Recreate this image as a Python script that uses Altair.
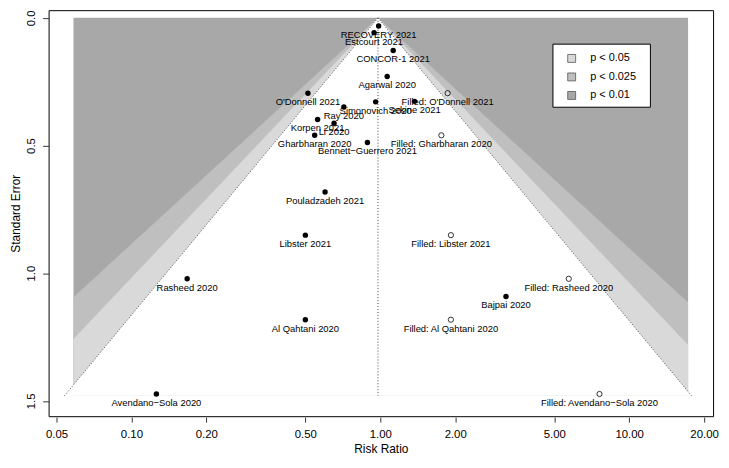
import altair as alt
import numpy as np
import pandas as pd

# ---- data ----
studies = ["RECOVERY 2021", "Estcourt 2021", "CONCOR-1 2021", "Agarwal 2020",
           "O'Donnell 2021", "Simonovich 2020", "Sekine 2021", "Ray 2020",
           "Korpen 2021", "Li 2020", "Gharbharan 2020", "Bennett\u2212Guerrero 2021",
           "Pouladzadeh 2021", "Libster 2021", "Rasheed 2020", "Bajpai 2020",
           "Al Qahtani 2020", "Avendano\u2212Sola 2020"]
rr = [0.985, 0.944, 1.127, 1.066, 0.512, 0.958, 1.374, 0.714, 0.560, 0.652,
      0.545, 0.888, 0.600, 0.500, 0.1675, 3.20, 0.500, 0.126]
se = [0.032, 0.058, 0.128, 0.230, 0.295, 0.329, 0.327, 0.349, 0.398, 0.413,
      0.460, 0.488, 0.682, 0.851, 1.022, 1.091, 1.182, 1.473]

filled_names = ["Filled: O'Donnell 2021", "Filled: Gharbharan 2020", "Filled: Libster 2021",
                "Filled: Rasheed 2020", "Filled: Al Qahtani 2020", "Filled: Avendano\u2212Sola 2020"]
filled_rr = [1.865, 1.760, 1.922, 5.72, 1.922, 7.60]
filled_se = [0.295, 0.460, 0.851, 1.022, 1.182, 1.473]

pooled_rr = 0.979
se_max = 1.48
region_xlim = [0.0585, 17.25]
contour_z = [1.96, 2.241, 2.576]
legend_labels = ["p < 0.05", "p < 0.025", "p < 0.01"]
shade = ["#D9D9D9", "#BFBFBF", "#A8A8A8"]
x_ticks = [0.05, 0.1, 0.2, 0.5, 1, 2, 5, 10, 20]
y_ticks = [0.0, 0.5, 1.0, 1.5]

# ---- contour regions ----
c = np.log(pooled_rr)
L, R = np.log(region_xlim)


def band(z, level, clip=True):
    pts = {0.0, se_max}
    for d in (c - L, R - c):
        s = d / z
        if 0 < s < se_max:
            pts.add(s)
    rows = []
    for s in sorted(pts):
        lo, hi = c - z * s, c + z * s
        if clip:
            lo, hi = max(lo, L), min(hi, R)
        rows.append({"se": s, "lo": float(np.exp(lo)), "hi": float(np.exp(hi)), "level": level})
    return pd.DataFrame(rows)


dark = pd.DataFrame({"se": [0.0, se_max], "lo": [region_xlim[0]] * 2,
                     "hi": [region_xlim[1]] * 2, "level": [legend_labels[2]] * 2})
mid = band(contour_z[2], legend_labels[1])
light = band(contour_z[1], legend_labels[0])
white = band(contour_z[0], "white", clip=False)

ci_lines = pd.DataFrame({
    "se": [0.0, se_max, 0.0, se_max],
    "x": [pooled_rr, float(np.exp(c - contour_z[0] * se_max)),
          pooled_rr, float(np.exp(c + contour_z[0] * se_max))],
    "side": ["l", "l", "r", "r"]})
ref = pd.DataFrame({"x": [pooled_rr], "se": [0.0], "se2": [se_max]})

obs = pd.DataFrame({"name": studies, "rr": rr, "se": se})
fill = pd.DataFrame({"name": filled_names, "rr": filled_rr, "se": filled_se})

# ---- scales / axes ----
xscale = alt.Scale(type="log", domain=[0.04648, 21.74], nice=False)
yscale = alt.Scale(domain=[-0.03, 1.56], reverse=True, nice=False, zero=False)
xaxis = alt.Axis(values=x_ticks, format=".2f", title="Risk Ratio", grid=False, domain=False,
                 tickSize=5, offset=1, labelPadding=7, labelFontSize=11.5, titleFontSize=12,
                 titleY=36, titleBaseline="alphabetic", labelFlush=False, labelOverlap=False,
                 tickColor="#333333", labelColor="black", titleColor="black",
                 titleFontWeight="normal")
yaxis = alt.Axis(values=y_ticks, format=".1f", title="Standard Error", grid=False, domain=False,
                 tickSize=6, labelAngle=270, labelAlign="center", labelBaseline="middle",
                 labelPadding=11, labelFontSize=11.5, titleFontSize=12, titleX=-33, titleY=205,
                 titleAngle=270, titleAlign="center", titleBaseline="middle", labelFlush=False,
                 labelOverlap=False, tickColor="#333333", labelColor="black", titleColor="black",
                 titleFontWeight="normal")


def X(f):
    return alt.X(f, type="quantitative", scale=xscale, axis=xaxis, stack=None)


def Y(f):
    return alt.Y(f, type="quantitative", scale=yscale, axis=yaxis, stack=None)


color = alt.Color("level:N", scale=alt.Scale(domain=legend_labels, range=shade),
                  legend=alt.Legend(orient="none", legendX=522.7, legendY=43.2, title=None,
                                    padding=0, symbolType="square", symbolSize=64,
                                    symbolStrokeColor="#555555", symbolStrokeWidth=0.8,
                                    labelFontSize=11, labelOffset=13.3, rowPadding=5.7,
                                    labelColor="black"))


def region(df):
    return alt.Chart(df).mark_area(orient="horizontal", opacity=1).encode(
        y=Y("se"), x=X("lo"), x2="hi", color=color)


layers = [region(dark), region(mid), region(light),
          alt.Chart(white).mark_area(orient="horizontal", color="white", opacity=1, clip=True).encode(
              y=Y("se"), x=X("lo"), x2="hi"),
          alt.Chart(ci_lines).mark_line(color="#444444", strokeDash=[1, 2], strokeWidth=1,
                                        clip=True).encode(
              x=X("x"), y=Y("se"), detail="side:N", order=alt.Order("se:Q")),
          alt.Chart(ref).mark_rule(color="#444444", strokeDash=[1, 2], strokeWidth=1).encode(
              x=X("x"), y=Y("se"), y2="se2"),
          alt.Chart(pd.DataFrame({"a": [0]})).mark_rect(fill="white", stroke="black",
                                                        strokeWidth=1).encode(
              x=alt.value(509.3), x2=alt.value(607.7), y=alt.value(34.3), y2=alt.value(98)),
          alt.Chart(obs).mark_circle(size=30, color="black", opacity=1).encode(
              x=X("rr"), y=Y("se")),
          alt.Chart(fill).mark_point(shape="circle", size=28, filled=False, color="black",
                                     strokeWidth=0.8, opacity=1).encode(
              x=X("rr"), y=Y("se")),
          alt.Chart(obs).mark_text(fontSize=9.5, dy=9, baseline="middle", align="center",
                                   color="black").encode(x=X("rr"), y=Y("se"), text="name:N"),
          alt.Chart(fill).mark_text(fontSize=9.5, dy=9, baseline="middle", align="center",
                                    color="black").encode(x=X("rr"), y=Y("se"), text="name:N"),
          ]

chart = alt.layer(*layers).properties(
    width=671, height=410,
    autosize=alt.AutoSizeParams(type="none"),
    padding={"left": 41, "top": 0, "right": 8, "bottom": 40},
).configure(font="Liberation Sans").configure_view(stroke="black", strokeWidth=1)

chart.save("out.html", embed_options={"renderer": "svg", "actions": False})
